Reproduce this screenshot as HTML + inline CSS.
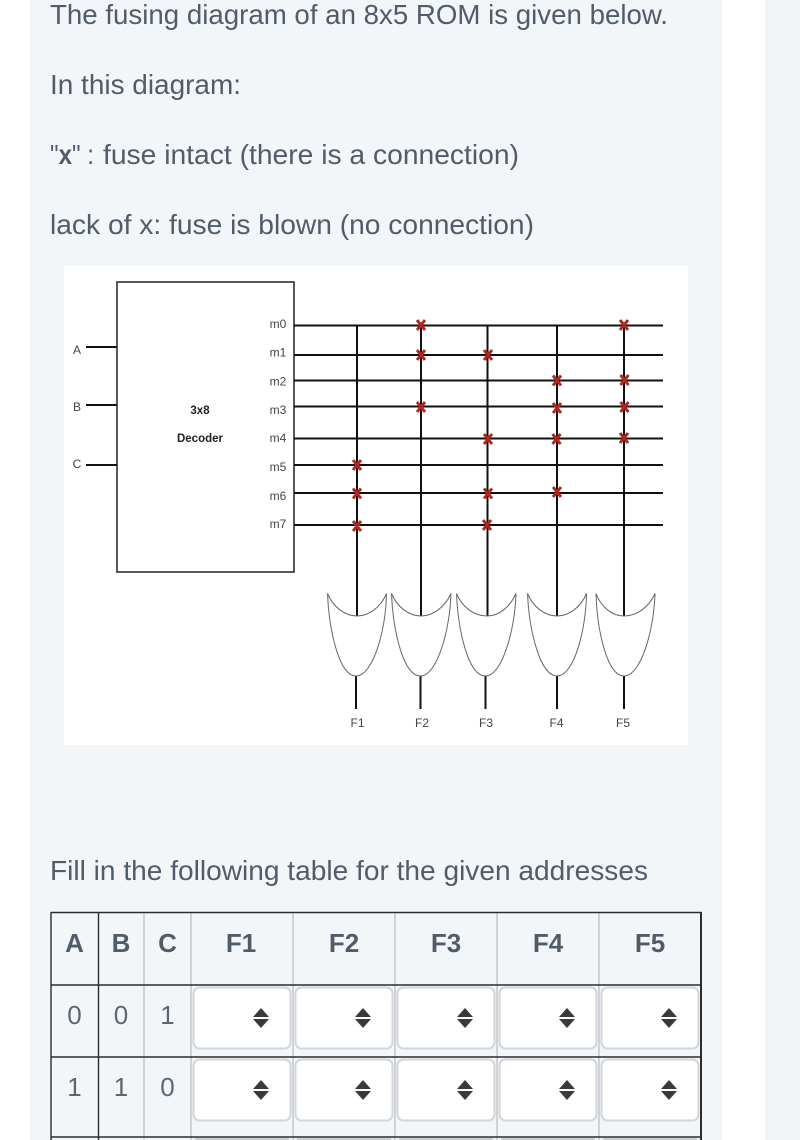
<!DOCTYPE html>
<html><head><meta charset="utf-8"><style>
html,body{margin:0;padding:0;background:#fff;width:800px;height:1140px;overflow:hidden}
svg{display:block;overflow:hidden}
.t{font-family:"Liberation Sans",sans-serif;font-size:27.5px;fill:#505c67}
.h{font-family:"Liberation Sans",sans-serif;font-size:26px;font-weight:bold;fill:#505c67;text-anchor:middle}
.d{font-family:"Liberation Sans",sans-serif;font-size:26px;fill:#5b6771;text-anchor:middle}
.l{font-family:"Liberation Sans",sans-serif;font-size:12px;fill:#444;text-anchor:middle}
.b{font-family:"Liberation Sans",sans-serif;font-size:11.5px;fill:#222;font-weight:bold;text-anchor:middle}
.w{stroke:#111;stroke-width:2;fill:none}
.g{stroke:#666;stroke-width:1;fill:none}
.x{stroke:#b3261e;stroke-width:3;fill:none}
.dk{stroke:#2c2c2c;stroke-width:1.4}
.lg{stroke:#d0d3d6;stroke-width:2}
.s{fill:#fff;stroke:#d2d6da;stroke-width:2}
.a{fill:#3a3a3a}
.blur{filter:blur(.35px)}
</style></head><body>
<svg width="800" height="1140" viewBox="0 0 800 1140" xmlns="http://www.w3.org/2000/svg">
<rect x="0" y="0" width="800" height="1140" fill="#fff"/>
<rect x="30" y="0" width="692" height="1140" fill="#f3f6f9"/>
<rect x="765" y="0" width="35" height="1140" fill="#f3f4f6"/>

<text class="t" x="50" y="24" textLength="618" lengthAdjust="spacingAndGlyphs">The fusing diagram of an 8x5 ROM is given below.</text>
<text class="t" x="50" y="94" textLength="191" lengthAdjust="spacingAndGlyphs">In this diagram:</text>
<text class="t" x="50" y="164" textLength="44" lengthAdjust="spacingAndGlyphs">"<tspan font-weight="bold">x</tspan>" :</text>
<text class="t" x="103" y="164" textLength="416" lengthAdjust="spacingAndGlyphs">fuse intact (there is a connection)</text>
<text class="t" x="50" y="234" textLength="484" lengthAdjust="spacingAndGlyphs">lack of x: fuse is blown (no connection)</text>

<rect x="64" y="266" width="624" height="479" fill="#fff"/>
<g class="blur">
<rect x="117" y="282" width="177" height="290" fill="#fff" stroke="#222" stroke-width="1.5"/>
<g class="w">
<path d="M86 347H117M86 405H117M86 465H117"/>
<path d="M294 325.5H663M294 355H663M294 380.5H663M294 406.5H663M294 438.5H663M294 465H663M294 493H663M294 525H663"/>
<path d="M357 325V616M421 325V616M487.5 325V616M557 325V616M624 325V616"/>
<path d="M356 676V709M420.5 676V709M485.5 676V709M557 676V709M624 676V709"/>
</g>
<g class="g">
<path d="M327.5 593.500C333 607 345 616 357 616C369 616 381 607 386.500 593.500C386 630 373 676 356 676C339 676 329 630 327.500 593.500Z"/>
<path d="M391.500 593.500C397 607 409 616 421 616C433 616 445 607 451 593.500C450 630 437 676 420.500 676C403 676 393 630 391.500 593.500Z"/>
<path d="M456.500 593.500C462 607 474 616 487 616C499 616 510 607 516 593.500C515 630 502 676 485.500 676C468 676 458 630 456.500 593.500Z"/>
<path d="M527.500 593.500C533 607 545 616 557 616C569 616 581 607 586.500 593.500C586 630 574 676 557 676C540 676 529 630 527.500 593.500Z"/>
<path d="M596 593.500C601 607 612 616 624 616C637 616 649 607 655 593.500C654 630 641 676 624 676C607 676 597 630 596 593.500Z"/>
</g>
<path class="x" d="M417 320L425 330M425 320L417 330M620 320L628 330M628 320L620 330M417 350L425 360M425 350L417 360M484 350L492 360M492 350L484 360M553 375.500L561 385.500M561 375.500L553 385.500M620.500 375L628.500 385M628.500 375L620.500 385M417 402L425 412M425 402L417 412M553 403L561 413M561 403L553 413M620.500 402L628.500 412M628.500 402L620.500 412M484 434L492 444M492 434L484 444M552.500 434L560.500 444M560.500 434L552.500 444M620 433L628 443M628 433L620 443M353 460L361 470M361 460L353 470M353 488.500L361 498.500M361 488.500L353 498.500M484 488.500L492 498.500M492 488.500L484 498.500M553 487L561 497M561 487L553 497M353 521L361 531M361 521L353 531M483 520L491 530M491 520L483 530"/>

<text class="l" x="77" y="354">A</text><text class="l" x="77" y="411">B</text><text class="l" x="77" y="468">C</text>
<text class="l" x="278" y="328">m0</text><text class="l" x="278" y="356.500">m1</text><text class="l" x="278" y="385.500">m2</text><text class="l" x="278" y="414">m3</text><text class="l" x="278" y="442">m4</text><text class="l" x="278" y="471">m5</text><text class="l" x="278" y="500">m6</text><text class="l" x="278" y="528">m7</text>
<text class="b" x="200" y="414">3x8</text><text class="b" x="200" y="442">Decoder</text>
<text class="l" x="357.500" y="727">F1</text><text class="l" x="422" y="727">F2</text><text class="l" x="486" y="727">F3</text><text class="l" x="556.500" y="727">F4</text><text class="l" x="623" y="727">F5</text>
</g>

<text class="t" x="50" y="880" textLength="598" lengthAdjust="spacingAndGlyphs">Fill in the following table for the given addresses</text>

<path class="lg" d="M144 913V1140M191 913V1140M293 913V1140M395 913V1140M497 913V1140M599 913V1140"/>
<path class="dk" d="M51 912.500H701.500M51 985H701M51 1057H701M51 1137H701M51 912V1140M98.500 912V1140"/>
<path d="M701 912V1140" stroke="#2c2c2c" stroke-width="2"/>

<text class="h" x="74.500" y="952">A</text><text class="h" x="121" y="952">B</text><text class="h" x="167.500" y="952">C</text>
<text class="h" x="241" y="952">F1</text><text class="h" x="344" y="952">F2</text><text class="h" x="446" y="952">F3</text><text class="h" x="548" y="952">F4</text><text class="h" x="650" y="952">F5</text>
<text class="d" x="74.500" y="1024">0</text><text class="d" x="121" y="1024">0</text><text class="d" x="167.500" y="1024">1</text>
<text class="d" x="74.500" y="1096">1</text><text class="d" x="121" y="1096">1</text><text class="d" x="167.500" y="1096">0</text>

<g class="s">
<rect x="193.500" y="987.500" width="97" height="61" rx="6"/><rect x="295.500" y="987.500" width="97" height="61" rx="6"/><rect x="397.500" y="987.500" width="97" height="61" rx="6"/><rect x="499.500" y="987.500" width="97" height="61" rx="6"/><rect x="601.500" y="987.500" width="97" height="61" rx="6"/>
<rect x="193.500" y="1059.500" width="97" height="61" rx="6"/><rect x="295.500" y="1059.500" width="97" height="61" rx="6"/><rect x="397.500" y="1059.500" width="97" height="61" rx="6"/><rect x="499.500" y="1059.500" width="97" height="61" rx="6"/><rect x="601.500" y="1059.500" width="97" height="61" rx="6"/>
</g>
<path d="M195 1139H289M297 1139H391M399 1139H493M501 1139H595M603 1139H697" stroke="#c9cdd1" stroke-width="2"/>
<path class="a" d="M253 1017L261 1008L269 1017ZM253 1019L261 1028L269 1019ZM355 1017L363 1008L371 1017ZM355 1019L363 1028L371 1019ZM457 1017L465 1008L473 1017ZM457 1019L465 1028L473 1019ZM559 1017L567 1008L575 1017ZM559 1019L567 1028L575 1019ZM661 1017L669 1008L677 1017ZM661 1019L669 1028L677 1019Z"/>
<path class="a" d="M253 1089L261 1080L269 1089ZM253 1091L261 1100L269 1091ZM355 1089L363 1080L371 1089ZM355 1091L363 1100L371 1091ZM457 1089L465 1080L473 1089ZM457 1091L465 1100L473 1091ZM559 1089L567 1080L575 1089ZM559 1091L567 1100L575 1091ZM661 1089L669 1080L677 1089ZM661 1091L669 1100L677 1091Z"/>
</svg>
</body></html>
